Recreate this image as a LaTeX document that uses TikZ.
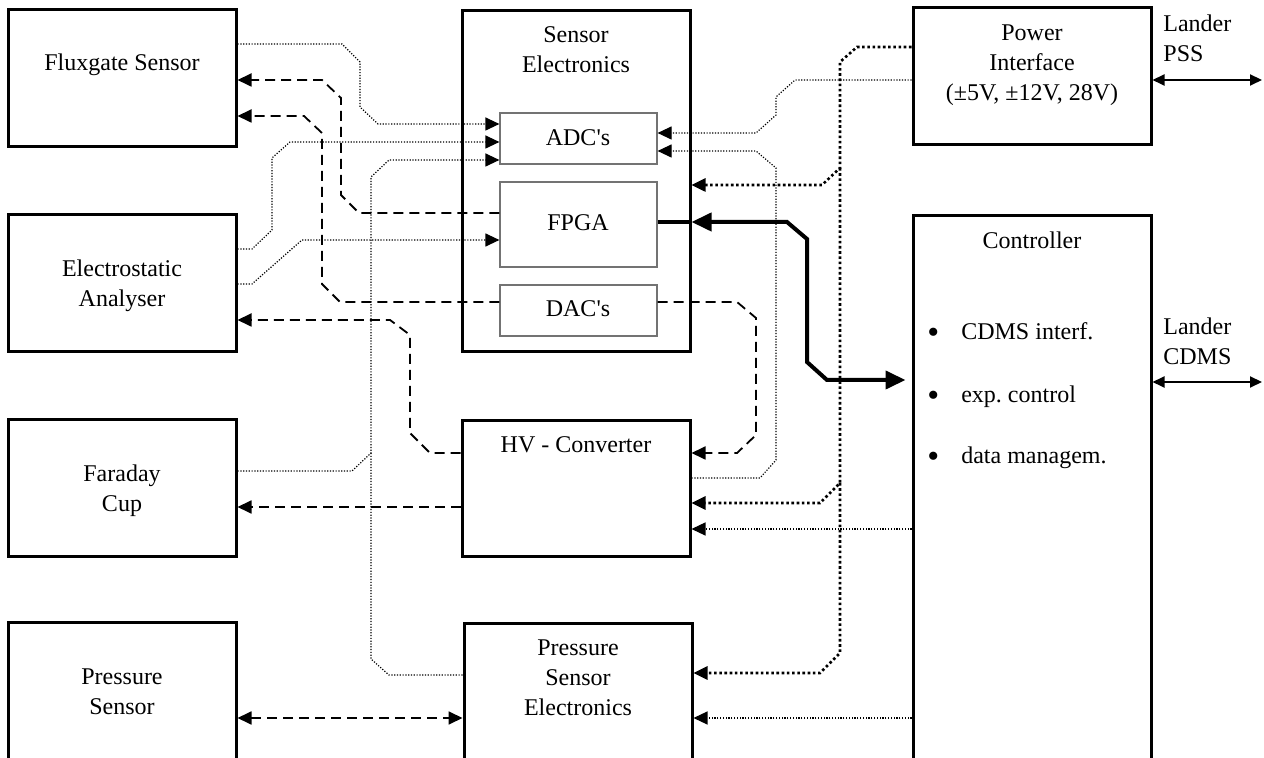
\documentclass[tikz,border=0pt]{standalone}
\usepackage{fontspec}
\setmainfont{Liberation Serif}
\usetikzlibrary{arrows.meta,fit}
\frenchspacing
\newcommand{\bigbul}{\raisebox{-1.8pt}{\fontsize{17}{15}\selectfont\textbullet}}
\begin{document}
\begin{tikzpicture}[x=0.5pt,y=-0.5pt,
  box/.style={draw, line width=1.5pt, inner sep=0pt},
  inbox/.style={draw=black!55, line width=0.6pt, inner sep=0pt},
  txt/.style={font=\fontsize{12}{15}\selectfont, align=center, inner sep=0pt},
  ltxt/.style={font=\fontsize{12}{15}\selectfont, align=left, inner sep=0pt, anchor=west},
  tdot/.style={line width=0.6pt, dash pattern=on 0.6pt off 0.8pt},
  kdot/.style={line width=1.3pt, dash pattern=on 1.3pt off 1.3pt},
  dsh/.style={line width=0.9pt, dash pattern=on 5pt off 3pt},
  heavy/.style={line width=2pt},
  tip/.style={-{Triangle[length=7pt,width=6.5pt]}},
  btip/.style={{Triangle[length=7pt,width=6.5pt]}-{Triangle[length=7pt,width=6.5pt]}},
  bigtips/.style={{Triangle[length=10pt,width=9pt]}-{Triangle[length=10pt,width=9pt]}},
  thin2tip/.style={{Triangle[length=6pt,width=5.5pt]}-{Triangle[length=6pt,width=5.5pt]}}
]
\useasboundingbox (0,0) rectangle (1264,758);
\clip (0,0) rectangle (1264,758);

% boxes
\node[box, fit={(8,10) (236,147)}] (fg) {};
\node[box, fit={(8,215) (236,352)}] (esa) {};
\node[box, fit={(8,420) (236,557)}] (fc) {};
\node[box, fit={(8,623) (236,790)}] (ps) {};
\node[box, fit={(462,11) (690,352)}] (se) {};
\node[inbox, fit={(500,113) (657,164)}] (adc) {};
\node[inbox, fit={(500,182) (657,267)}] (fpga) {};
\node[inbox, fit={(500,285) (657,336)}] (dac) {};
\node[box, fit={(462,421) (690,557)}] (hv) {};
\node[box, fit={(464,624) (692,790)}] (pse) {};
\node[box, fit={(913,8) (1151,145)}] (pwr) {};
\node[box, fit={(913,216) (1151,790)}] (ctl) {};

% texts
\node[txt] (fgt) at (122,65) {Fluxgate Sensor};
\node[txt] (esat) at (122,286) {Electrostatic\\Analyser};
\node[txt] (fct) at (122,491) {Faraday\\Cup};
\node[txt] (pst) at (122,692) {Pressure\\Sensor};
\node[txt] (set) at (576,50) {Sensor\\Electronics};
\node[txt] (adct) at (578,138) {ADC\textquotesingle s};
\node[txt] (fpgat) at (578,223) {FPGA};
\node[txt] (dact) at (578,309) {DAC\textquotesingle s};
\node[txt] (hvt) at (576,445) {HV - Converter};
\node[txt] (pset) at (578,678) {Pressure\\Sensor\\Electronics};
\node[txt] (pwrt) at (1032,65) {Power\\Interface\\(±5V, ±12V, 28V)};
\node[txt] (ctlt) at (1032,240) {Controller};
\node[ltxt] (b1) at (927,333) {\bigbul\hspace{11pt}CDMS interf.};
\node[ltxt] (b2) at (927,397) {\bigbul\hspace{11pt}exp. control};
\node[ltxt] (b3) at (927,458) {\bigbul\hspace{11pt}data managem.};
\node[ltxt] (lp) at (1163,38) {Lander\\PSS};
\node[ltxt] (lc) at (1163,341) {Lander\\CDMS};

% left side connectors
\draw[tdot, tip] (fg.east |- 0,44) -- (342,44) -- (360,62) -- (360,107) -- (378,124) -- (adc.west |- 0,124);
\draw[dsh, tip] (fpga.west |- 0,213) -- (359,213) -- (341,195) -- (341,98) -- (322,80) -- (fg.east |- 0,80);
\draw[dsh, tip] (dac.west |- 0,302) -- (340,302) -- (322,284) -- (322,133) -- (304,116) -- (fg.east |- 0,116);
\draw[tdot, tip] (esa.east |- 0,249) -- (252,249) -- (272,230) -- (272,158) -- (290,142) -- (adc.west |- 0,142);
\draw[tdot, tip] (esa.east |- 0,284) -- (252,284) -- (302,240) -- (fpga.west |- 0,240);
\draw[tdot, tip] (fc.east |- 0,471) -- (352,471) -- (371,453) -- (371,177) -- (389,160) -- (adc.west |- 0,160);
\coordinate (j1) at (371,453);
\draw[tdot] (pse.west |- 0,675) -- (389,675) -- (371,659) -- (j1);
\draw[dsh, tip] (hv.west |- 0,507) -- (fc.east |- 0,507);
\draw[dsh, tip] (hv.west |- 0,453) -- (430,453) -- (410,433) -- (410,335) -- (390,320) -- (esa.east |- 0,320);
\draw[dsh, btip] (ps.east |- 0,718) -- (pse.west |- 0,718);

% right side connectors
\coordinate (k1) at (840,168);
\coordinate (k2) at (840,483);
\draw[kdot, tip] (pwr.west |- 0,47) -- (857,47) -- (840,62) -- (k1) -- (822,185) -- (se.east |- 0,185);
\draw[kdot, tip] (k1) -- (k2) -- (820,503) -- (hv.east |- 0,503);
\draw[kdot, tip] (k2) -- (840,653) -- (820,673) -- (pse.east |- 0,673);
\draw[tdot, tip] (pwr.west |- 0,80) -- (795,80) -- (776,97) -- (776,115) -- (756,133) -- (adc.east |- 0,133);
\draw[tdot, tip] (hv.east |- 0,478) -- (760,478) -- (776,460) -- (776,168) -- (756,151) -- (adc.east |- 0,151);
\draw[dsh, tip] (dac.east |- 0,302) -- (737,302) -- (756,318) -- (756,435) -- (737,453) -- (hv.east |- 0,453);
\draw[heavy] (fpga.east |- 0,222) -- (se.east |- 0,222);
\draw[heavy, bigtips, shorten >=3pt] (se.east |- 0,222) -- (787,222) -- (807,239) -- (807,362) -- (827,380) -- (ctl.west |- 0,380);
\draw[tdot, tip] (ctl.west |- 0,529) -- (hv.east |- 0,529);
\draw[tdot, tip] (ctl.west |- 0,718) -- (pse.east |- 0,718);
\draw[line width=1pt, thin2tip] (pwr.east |- 0,80) -- (1262,80);
\draw[line width=1pt, thin2tip] (ctl.east |- 0,382) -- (1262,382);
\end{tikzpicture}
\end{document}
